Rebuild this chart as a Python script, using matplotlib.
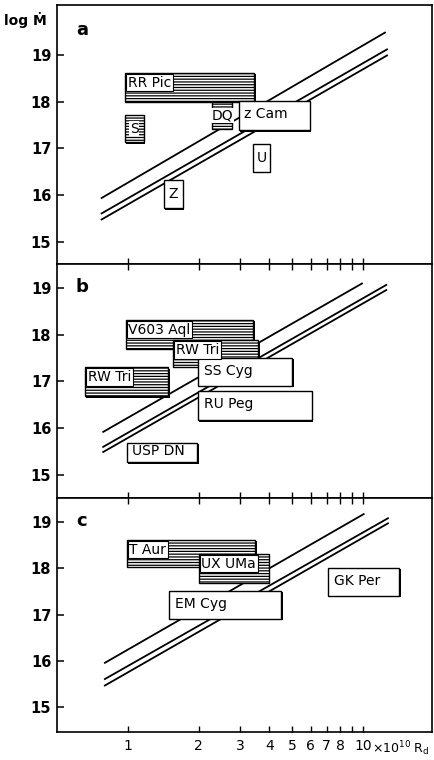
import matplotlib
matplotlib.use("Agg")
import matplotlib.pyplot as plt
import matplotlib.patheffects as pe
from matplotlib.patches import Rectangle
from matplotlib.ticker import FixedLocator, FixedFormatter

plt.rcParams.update(
    {
        "font.family": "DejaVu Sans",
        "font.size": 10,
        "mathtext.default": "regular",
        "axes.linewidth": 1.2,
        "hatch.linewidth": 0.9,
    }
)

# x ticks (R_d in 1e10 cm), y ticks (log Mdot)
x_ticks = [1, 2, 3, 4, 5, 6, 7, 8, 9, 10]
x_tick_labels = ["1", "2", "3", "4", "5", "6", "7", "8", "", "10"]
y_ticks = [15, 16, 17, 18, 19]

# diagonal critical-rate lines per panel: (x_start, x_end, y_start, y_end)
lines_a = [(0.775, 12.4, 15.94, 19.48), (0.775, 12.65, 15.61, 19.12), (0.775, 12.65, 15.48, 18.99)]
lines_b = [(0.787, 9.9, 15.92, 19.09), (0.787, 12.56, 15.60, 19.06), (0.787, 12.56, 15.49, 18.95)]
lines_c = [(0.80, 10.07, 15.96, 19.17), (0.80, 12.77, 15.61, 19.08), (0.80, 12.77, 15.47, 18.97)]

# boxes: (name, x0, x1, y0, y1, hatched)
boxes_a = [
    ("RR Pic", 0.975, 3.45, 18.00, 18.62, True),
    ("S", 0.975, 1.17, 17.13, 17.72, True),
    ("DQ", 2.29, 2.77, 17.42, 18.00, True),
    ("z Cam", 2.96, 5.93, 17.39, 18.02, False),
    ("U", 3.42, 4.01, 16.50, 17.09, False),
    ("Z", 1.42, 1.72, 15.72, 16.32, False),
]
boxes_b = [
    ("V603 Aql", 0.98, 3.42, 17.70, 18.31, True),
    ("RW Tri", 1.56, 3.59, 17.31, 17.88, True),
    ("RW Tri", 0.658, 1.49, 16.68, 17.30, True),
    ("SS Cyg", 1.99, 5.01, 16.90, 17.50, False),
    ("RU Peg", 1.99, 6.07, 16.17, 16.79, False),
    ("USP DN", 0.99, 1.98, 15.27, 15.68, False),
]
boxes_c = [
    ("T Aur", 0.99, 3.48, 18.03, 18.61, True),
    ("UX UMa", 2.00, 3.97, 17.69, 18.31, True),
    ("EM Cyg", 1.50, 4.49, 16.91, 17.51, False),
    ("GK Per", 7.10, 14.27, 17.40, 18.01, False),
]

centered = {"S", "DQ", "U", "Z"}
shadow = [pe.SimplePatchShadow(offset=(1, -1), shadow_rgbFace="black", alpha=1), pe.Normal()]


def draw_panel(ax, letter, lines, boxes, ylim, top_ticks, bottom_labels):
    ax.set_xscale("log")
    ax.set_xlim(0.5, 19.7)
    ax.set_ylim(*ylim)

    for x0, x1, y0, y1 in lines:
        ax.plot([x0, x1], [y0, y1], color="black", lw=1.3, zorder=2)

    for name, x0, x1, y0, y1, hatched in boxes:
        rect = Rectangle((x0, y0), x1 - x0, y1 - y0, facecolor="white", edgecolor="black",
                         lw=1.0, hatch="------" if hatched else None, zorder=3)
        rect.set_path_effects(shadow)
        ax.add_patch(rect)
        if name in centered:
            ax.text((x0 * x1) ** 0.5, (y0 + y1) / 2, name, ha="center", va="center", fontsize=10, zorder=4,
                    bbox=dict(boxstyle="square,pad=0.05", fc="white", ec="none") if hatched else None)
        elif hatched:
            ax.annotate(name, xy=(x0, y1), xytext=(2, -2), textcoords="offset points",
                        ha="left", va="top", fontsize=10, zorder=4,
                        bbox=dict(boxstyle="square,pad=0.12", fc="white", ec="black", lw=0.8))
        else:
            ax.annotate(name, xy=(x0, (y0 + y1) / 2), xytext=(4, 1), textcoords="offset points",
                        ha="left", va="center", fontsize=10, zorder=4)

    ax.text(0.067, 0.905, letter, transform=ax.transAxes, fontsize=13, fontweight="bold",
            ha="center", va="center")

    ax.xaxis.set_major_locator(FixedLocator(x_ticks))
    ax.xaxis.set_minor_locator(FixedLocator([]))
    ax.xaxis.set_major_formatter(FixedFormatter(x_tick_labels))
    ax.set_yticks(y_ticks)
    ax.tick_params(axis="y", direction="in", length=5, width=1.1, left=True, right=False,
                   labelsize=10.5, pad=4)
    for lab in ax.get_yticklabels():
        lab.set_fontweight("bold")
    ax.tick_params(axis="x", which="both", direction="in", length=4, width=1.0, top=top_ticks,
                   bottom=True, labelbottom=bottom_labels, labelsize=10, pad=5)


fig = plt.figure(figsize=(4.34, 7.6), dpi=100)
ax_a = fig.add_axes([0.131, 0.6522, 0.865, 0.3412])
ax_b = fig.add_axes([0.131, 0.3443, 0.865, 0.3079])
ax_c = fig.add_axes([0.131, 0.0364, 0.865, 0.3079])

draw_panel(ax_a, "a", lines_a, boxes_a, (14.52, 20.07), False, False)
draw_panel(ax_b, "b", lines_b, boxes_b, (14.5, 19.5), True, False)
draw_panel(ax_c, "c", lines_c, boxes_c, (14.46, 19.51), True, True)

ax_c.annotate("×10$^{10}$ R$_{d}$", xy=(10.9, 0), xycoords=("data", "axes fraction"),
              xytext=(0, -5), textcoords="offset points", ha="left", va="top", fontsize=9)
fig.text(0.058, 0.974, "log Ṁ", ha="center", va="center", fontsize=10, fontweight="bold")

fig.savefig("out.png", dpi=100)
